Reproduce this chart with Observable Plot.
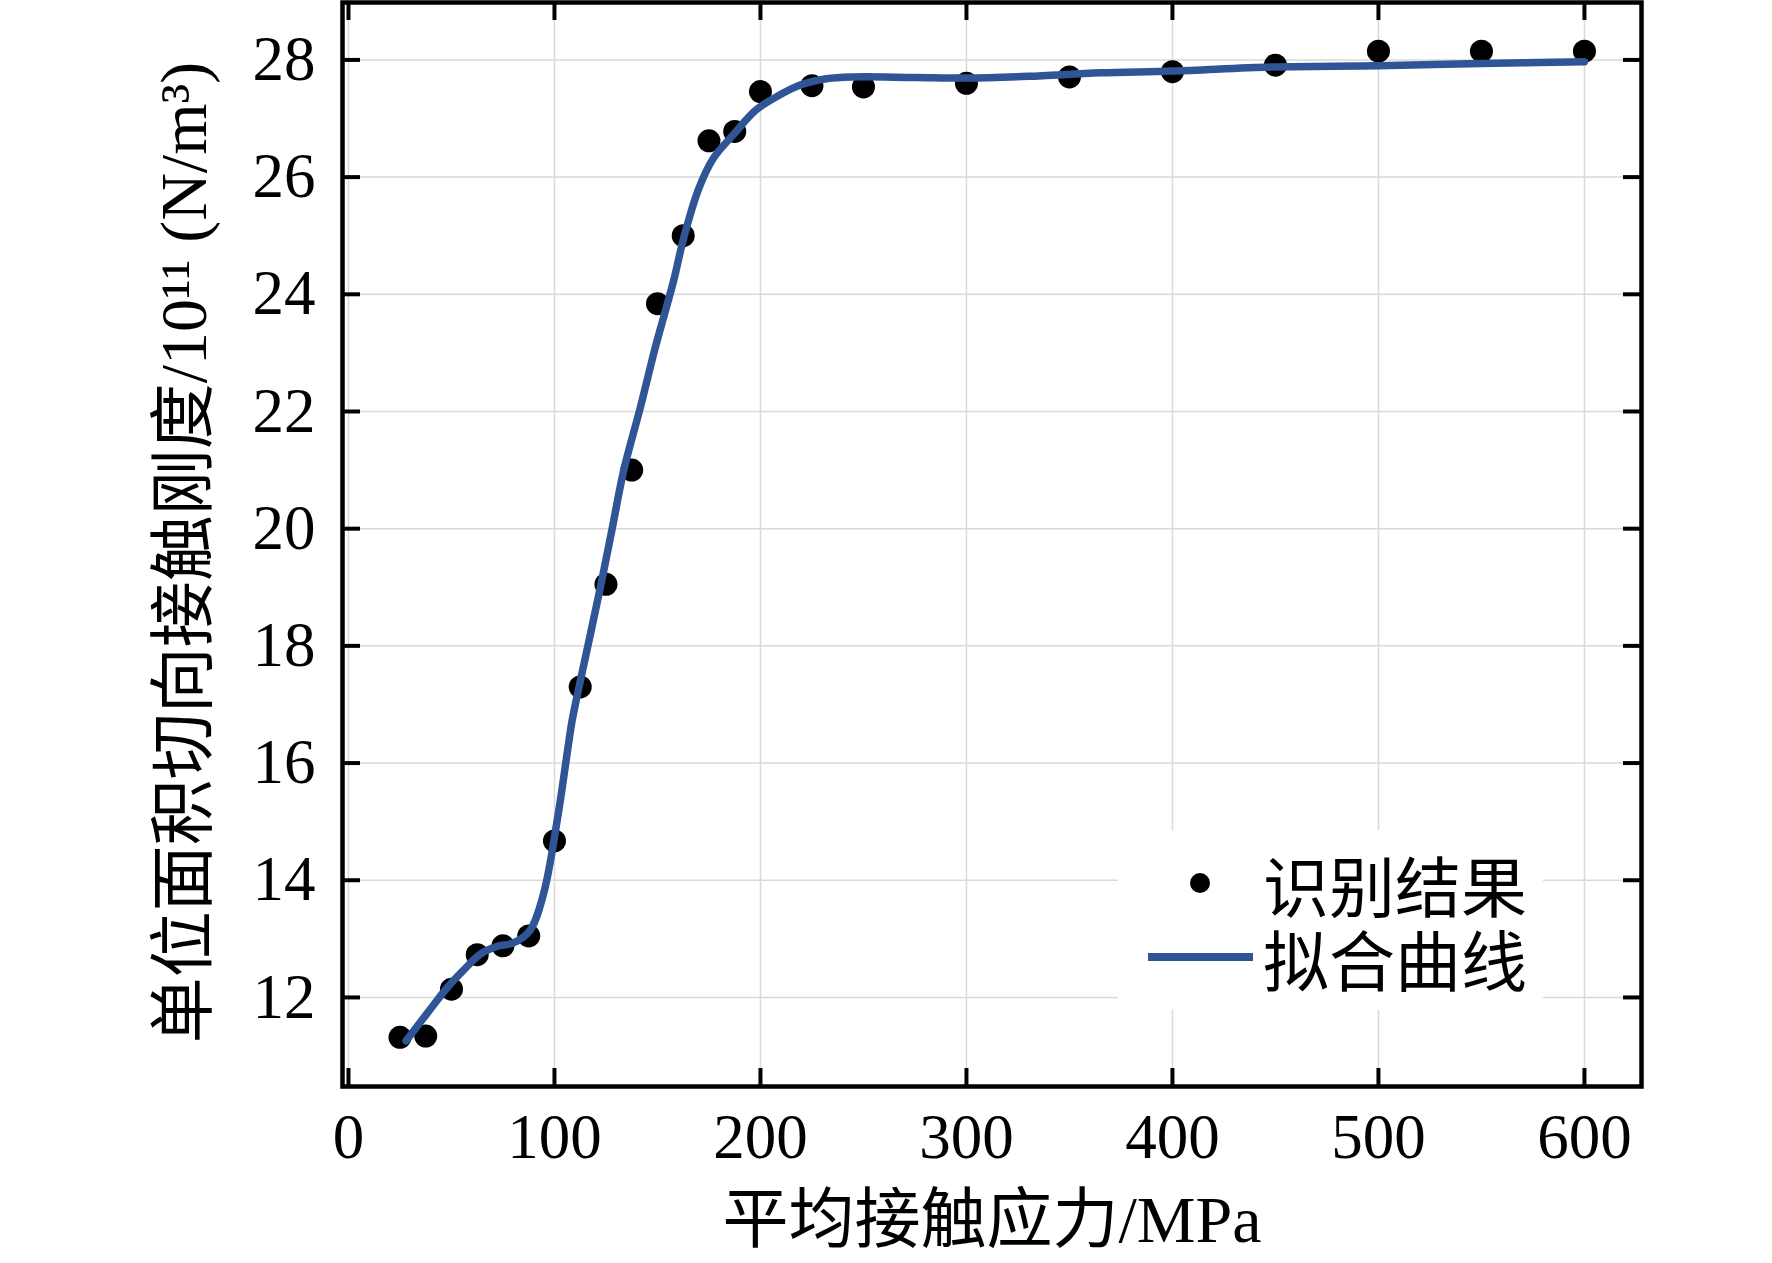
<!DOCTYPE html>
<html>
<head>
<meta charset="utf-8">
<script src="https://cdn.jsdelivr.net/npm/d3@7"></script>
<script src="https://cdn.jsdelivr.net/npm/@observablehq/plot@0.6"></script>
<style>
  html, body { margin: 0; padding: 0; background: #fff; }
  #wrap { position: relative; width: 1772px; height: 1263px; }
  #legend { position: absolute; left: 1118px; top: 830px; width: 425px; height: 180px; background: #fff; }
  #legend .dot { position: absolute; left: 72px; top: 43px; width: 20px; height: 20px; border-radius: 50%; background: #000; }
  #legend .ln { position: absolute; left: 30px; top: 123px; width: 105px; height: 8px; background: #2f5597; }
  #legend .t { position: absolute; left: 145px; font-family: "Noto Sans CJK SC", sans-serif; font-size: 66px; line-height: 66px; height: 66px; color: #000; white-space: nowrap; }
</style>
</head>
<body>
<div id="wrap">
  <div id="chart"></div>
  <div id="legend">
    <div class="dot"></div><div class="t" id="lg1" style="top:20px"></div>
    <div class="ln"></div><div class="t" id="lg2" style="top:94px"></div>
  </div>
</div>
<script>
// identified results (scatter)
const pressure = [25, 37.5, 50, 62.5, 75, 87.5, 100, 112.5, 125, 137.5, 150, 162.5, 175, 187.5, 200, 225, 250, 300, 350, 400, 450, 500, 550, 600];
const stiffness = [11.32, 11.34, 12.14, 12.73, 12.88, 13.05, 14.67, 17.30, 19.05, 21.0, 23.84, 25.0, 26.62, 26.78, 27.46, 27.56, 27.54, 27.60, 27.71, 27.80, 27.91, 28.15, 28.15, 28.15];

// fitted curve
const fitX = [28, 38, 48, 56, 64, 72, 80, 88, 94.7, 101.5, 106.3, 108.6, 112.6, 122.3, 128, 133.6, 141.7, 149, 153.4, 157.9, 162.8, 170, 177.3, 187, 198, 209.7, 220, 232, 245, 275, 300, 330, 365, 400, 450, 500, 550, 600];
const fitY = [11.26, 11.72, 12.17, 12.47, 12.74, 12.87, 12.93, 13.14, 13.77, 15.06, 16.2, 16.73, 17.41, 19.0, 20.0, 20.99, 22.07, 23.1, 23.66, 24.24, 24.97, 25.8, 26.33, 26.73, 27.15, 27.41, 27.58, 27.68, 27.71, 27.70, 27.69, 27.72, 27.78, 27.81, 27.88, 27.90, 27.94, 27.97];

const xTicks = [0, 100, 200, 300, 400, 500, 600];
const yTicks = [12, 14, 16, 18, 20, 22, 24, 26, 28];

const xLabel = "平均接触应力/MPa";
const yLabel = "单位面积切向接触刚度/10¹¹ (N/m³)";
const legendLabels = ["识别结果", "拟合曲线"];

const points = pressure.map((p, i) => ({x: p, y: stiffness[i]}));
const fit = fitX.map((p, i) => ({x: p, y: fitY[i]}));

const W = 1772, H = 1263;
const mL = 342, mR = 131, mT = 2, mB = 177;
const pw = W - mL - mR, ph = H - mT - mB;
const tickLen = 18;
const font = "'Liberation Serif', 'Noto Sans CJK SC', serif";

const chart = Plot.plot({
  width: W,
  height: H,
  marginLeft: mL,
  marginRight: mR,
  marginTop: mT,
  marginBottom: mB,
  style: {fontFamily: font, background: "#fff", color: "#000"},
  x: {domain: [-2.9, 627.7], axis: null},
  y: {domain: [10.48, 28.98], axis: null},
  marks: [
    Plot.gridX(xTicks, {stroke: "#d9d9d9", strokeOpacity: 1, strokeWidth: 1.5}),
    Plot.gridY(yTicks, {stroke: "#d9d9d9", strokeOpacity: 1, strokeWidth: 1.5}),
    Plot.dot(points, {x: "x", y: "y", r: 11.5, fill: "#000", stroke: null}),
    Plot.line(fit, {x: "x", y: "y", stroke: "#2f5597", strokeWidth: 7.5, curve: "catmull-rom"}),
    // inward ticks
    Plot.tickX(xTicks, {x: d => d, insetTop: ph - tickLen, stroke: "#000", strokeWidth: 4}),
    Plot.tickX(xTicks, {x: d => d, insetBottom: ph - tickLen, stroke: "#000", strokeWidth: 4}),
    Plot.tickY(yTicks, {y: d => d, insetRight: pw - tickLen, stroke: "#000", strokeWidth: 4}),
    Plot.tickY(yTicks, {y: d => d, insetLeft: pw - tickLen, stroke: "#000", strokeWidth: 4}),
    Plot.frame({stroke: "#000", strokeWidth: 4.5}),
    Plot.axisX(xTicks, {tickSize: 0, tickPadding: 27, fontSize: 63, label: null, fontFamily: font, tickFormat: d => String(d)}),
    Plot.axisY(yTicks, {tickSize: 0, tickPadding: 27, fontSize: 63, label: null, fontFamily: font, tickFormat: d => String(d)}),
    Plot.text([xLabel], {text: d => d, frameAnchor: "bottom", dy: 134, lineAnchor: "middle", textAnchor: "middle", fontSize: 66, fontFamily: font, fill: "#000"}),
    Plot.text([yLabel], {text: d => d, frameAnchor: "left", dx: -158, dy: 8, rotate: -90, lineAnchor: "middle", textAnchor: "middle", fontSize: 66, fontFamily: font, fill: "#000"})
  ]
});
document.getElementById("chart").appendChild(chart);
document.getElementById("lg1").textContent = legendLabels[0];
document.getElementById("lg2").textContent = legendLabels[1];
</script>
</body>
</html>
